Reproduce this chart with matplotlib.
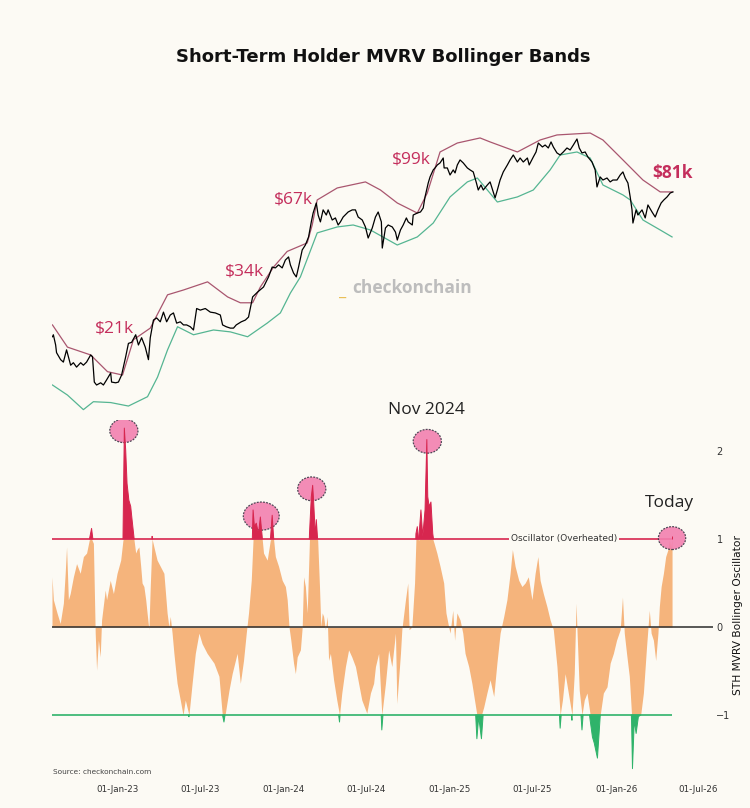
import numpy
import pandas
import matplotlib
matplotlib.use('Agg')
import matplotlib.pyplot
import matplotlib.dates
import matplotlib.patches

# price and bands, USD thousands
price_dates = ['2022-08-11', '2022-08-13', '2022-08-18', '2022-08-20', '2022-08-29', '2022-09-04', '2022-09-11', '2022-09-15',
	'2022-09-20', '2022-09-26', '2022-10-03', '2022-10-12', '2022-10-18', '2022-10-25', '2022-11-03', '2022-11-07',
	'2022-11-11', '2022-11-16', '2022-11-25', '2022-12-01', '2022-12-08', '2022-12-17', '2022-12-19', '2022-12-28',
	'2023-01-03', '2023-01-10', '2023-01-19', '2023-01-25', '2023-02-01', '2023-02-10', '2023-02-16', '2023-02-23',
	'2023-03-03', '2023-03-10', '2023-03-14', '2023-03-21', '2023-03-28', '2023-04-05', '2023-04-12', '2023-04-19',
	'2023-04-27', '2023-05-04', '2023-05-11', '2023-05-19', '2023-05-26', '2023-06-02', '2023-06-10', '2023-06-17',
	'2023-06-24', '2023-07-02', '2023-07-13', '2023-07-24', '2023-08-04', '2023-08-15', '2023-08-20', '2023-08-28',
	'2023-09-06', '2023-09-13', '2023-09-19', '2023-09-30', '2023-10-09', '2023-10-16', '2023-10-25', '2023-11-05',
	'2023-11-18', '2023-11-29', '2023-12-07', '2023-12-14', '2023-12-21', '2023-12-29', '2024-01-05', '2024-01-12',
	'2024-01-16', '2024-01-23', '2024-01-29', '2024-02-03', '2024-02-11', '2024-02-18', '2024-02-25', '2024-03-02',
	'2024-03-06', '2024-03-13', '2024-03-17', '2024-03-22', '2024-03-28', '2024-04-04', '2024-04-08', '2024-04-17',
	'2024-04-24', '2024-04-30', '2024-05-05', '2024-05-11', '2024-05-22', '2024-05-31', '2024-06-07', '2024-06-13',
	'2024-06-22', '2024-06-29', '2024-07-05', '2024-07-14', '2024-07-21', '2024-07-27', '2024-08-03', '2024-08-05',
	'2024-08-12', '2024-08-18', '2024-08-27', '2024-09-03', '2024-09-07', '2024-09-14', '2024-09-20', '2024-09-27',
	'2024-10-01', '2024-10-10', '2024-10-12', '2024-10-21', '2024-10-28', '2024-11-03', '2024-11-07', '2024-11-14',
	'2024-11-18', '2024-11-25', '2024-11-29', '2024-12-04', '2024-12-10', '2024-12-17', '2024-12-19', '2024-12-26',
	'2025-01-01', '2025-01-08', '2025-01-12', '2025-01-17', '2025-01-23', '2025-01-30', '2025-02-08', '2025-02-14',
	'2025-02-21', '2025-02-28', '2025-03-04', '2025-03-10', '2025-03-15', '2025-03-24', '2025-03-30', '2025-04-06',
	'2025-04-10', '2025-04-15', '2025-04-21', '2025-04-28', '2025-05-07', '2025-05-13', '2025-05-20', '2025-05-29',
	'2025-06-04', '2025-06-11', '2025-06-20', '2025-06-24', '2025-07-03', '2025-07-09', '2025-07-14', '2025-07-23',
	'2025-07-29', '2025-08-05', '2025-08-11', '2025-08-16', '2025-08-24', '2025-08-31', '2025-09-07', '2025-09-15',
	'2025-09-22', '2025-09-29', '2025-10-07', '2025-10-12', '2025-10-18', '2025-10-25', '2025-10-31', '2025-11-09',
	'2025-11-16', '2025-11-20', '2025-11-27', '2025-12-03', '2025-12-12', '2025-12-19', '2025-12-25', '2026-01-03',
	'2026-01-10', '2026-01-16', '2026-01-21', '2026-01-27', '2026-02-01', '2026-02-05', '2026-02-07', '2026-02-14',
	'2026-02-18', '2026-02-27', '2026-03-06', '2026-03-12', '2026-03-21', '2026-03-28', '2026-04-03', '2026-04-10',
	'2026-04-16', '2026-04-23', '2026-04-30', '2026-05-06']
price_k = [24.2, 24.6, 22.6, 21.2, 20.0, 19.6, 21.7, 20.5,
	19.1, 19.5, 18.8, 19.5, 19.1, 19.6, 20.8, 20.5,
	16.6, 16.2, 16.5, 16.2, 16.9, 17.9, 16.6, 16.5,
	16.6, 17.6, 20.5, 22.9, 23.1, 24.6, 22.6, 24.0,
	22.2, 20.0, 24.0, 27.8, 28.3, 27.4, 29.7, 27.4,
	29.0, 29.5, 27.1, 27.4, 26.7, 26.7, 26.3, 25.6,
	30.6, 30.2, 30.6, 29.7, 29.5, 29.0, 26.7, 26.3,
	26.0, 26.0, 26.7, 27.4, 27.8, 28.5, 33.7, 35.1,
	36.6, 39.8, 43.2, 42.9, 44.0, 42.9, 45.8, 47.0,
	44.0, 41.1, 39.8, 43.2, 49.8, 51.9, 55.5, 62.9,
	67.7, 73.6, 66.6, 62.9, 69.5, 66.6, 69.5, 63.9,
	65.0, 61.3, 62.9, 65.5, 68.3, 69.5, 69.5, 65.5,
	63.9, 60.3, 55.0, 59.8, 65.5, 68.3, 62.9, 50.6,
	59.8, 61.3, 60.3, 57.8, 54.1, 58.8, 61.3, 65.0,
	62.9, 61.3, 66.6, 67.7, 68.3, 70.6, 77.4, 86.9,
	91.4, 96.9, 98.5, 101.0, 102.7, 107.0, 98.5, 98.5,
	92.9, 96.9, 94.5, 101.0, 105.3, 102.7, 98.5, 96.9,
	95.3, 86.9, 82.0, 85.5, 82.0, 85.5, 87.7, 80.7,
	76.8, 82.0, 89.1, 95.3, 101.0, 105.3, 109.7, 103.5,
	107.0, 103.5, 107.0, 101.0, 107.9, 112.5, 121.2, 117.3,
	119.2, 116.3, 122.3, 117.3, 111.6, 109.7, 112.5, 116.3,
	114.4, 119.2, 125.3, 116.3, 111.6, 112.5, 107.9, 103.5,
	96.9, 84.1, 91.4, 89.1, 90.6, 87.7, 89.1, 89.1,
	92.9, 95.3, 90.6, 86.9, 77.4, 69.5, 62.3, 69.5,
	66.6, 69.5, 65.0, 72.4, 68.3, 65.5, 69.5, 73.6,
	75.5, 77.4, 80.0, 80.7]

upper_dates = ['2022-08-11', '2022-09-13', '2022-11-03', '2022-12-10', '2023-01-12', '2023-02-05', '2023-03-14', '2023-04-21',
	'2023-05-26', '2023-07-18', '2023-08-31', '2023-09-28', '2023-10-25', '2023-11-11', '2023-12-10', '2024-01-09',
	'2024-02-22', '2024-03-04', '2024-03-15', '2024-04-28', '2024-06-29', '2024-08-01', '2024-09-07', '2024-10-21',
	'2024-11-12', '2024-12-10', '2025-01-17', '2025-03-08', '2025-03-30', '2025-05-29', '2025-07-18', '2025-08-24',
	'2025-11-05', '2025-12-03', '2026-01-16', '2026-03-01', '2026-04-08', '2026-05-04']
upper_k = [26.7, 22.2, 20.8, 18.1, 17.6, 23.6, 26.0, 34.3,
	35.7, 38.2, 33.7, 32.1, 32.1, 36.6, 43.2, 49.2,
	52.8, 61.3, 75.5, 83.4, 87.7, 82.0, 73.6, 67.7,
	80.0, 112.5, 121.2, 126.4, 122.3, 112.5, 124.3, 129.6,
	131.7, 124.3, 105.3, 89.1, 80.7, 80.7]

lower_dates = ['2022-08-11', '2022-09-13', '2022-10-18', '2022-11-09', '2022-12-17', '2023-01-25', '2023-03-08', '2023-03-30',
	'2023-04-21', '2023-05-13', '2023-06-17', '2023-07-31', '2023-09-06', '2023-10-14', '2023-11-26', '2023-12-25',
	'2024-01-16', '2024-02-07', '2024-03-15', '2024-04-28', '2024-06-02', '2024-07-10', '2024-09-07', '2024-10-21',
	'2024-11-25', '2025-01-01', '2025-02-08', '2025-03-02', '2025-04-15', '2025-05-29', '2025-07-03', '2025-08-09',
	'2025-08-31', '2025-10-07', '2025-11-05', '2025-12-03', '2026-01-16', '2026-02-01', '2026-03-01', '2026-04-08',
	'2026-05-04']
lower_k = [16.2, 14.9, 13.2, 14.1, 14.0, 13.6, 14.7, 17.3,
	21.7, 26.3, 24.6, 25.6, 25.2, 24.2, 27.1, 29.5,
	34.8, 39.8, 57.4, 60.3, 61.3, 58.8, 51.9, 55.5,
	62.3, 77.4, 87.7, 90.6, 74.2, 77.4, 82.0, 96.9,
	109.7, 112.5, 107.0, 85.5, 78.7, 75.5, 63.9, 58.8,
	55.5]

# STH MVRV Bollinger oscillator
osc_dates = ['2022-08-10', '2022-08-13', '2022-08-21', '2022-08-28', '2022-09-04', '2022-09-08', '2022-09-11', '2022-09-15',
	'2022-09-19', '2022-09-26', '2022-10-03', '2022-10-11', '2022-10-18', '2022-10-25', '2022-10-31', '2022-11-05',
	'2022-11-09', '2022-11-13', '2022-11-16', '2022-11-20', '2022-11-24', '2022-11-27', '2022-12-05', '2022-12-08',
	'2022-12-16', '2022-12-23', '2022-12-31', '2023-01-08', '2023-01-13', '2023-01-16', '2023-01-19', '2023-01-22',
	'2023-01-26', '2023-01-30', '2023-02-02', '2023-02-06', '2023-02-10', '2023-02-13', '2023-02-17', '2023-02-21',
	'2023-02-24', '2023-02-28', '2023-03-04', '2023-03-07', '2023-03-11', '2023-03-14', '2023-03-18', '2023-03-22',
	'2023-03-29', '2023-04-05', '2023-04-13', '2023-04-20', '2023-04-24', '2023-04-27', '2023-05-01', '2023-05-05',
	'2023-05-08', '2023-05-12', '2023-05-19', '2023-05-25', '2023-05-30', '2023-06-07', '2023-06-14', '2023-06-21',
	'2023-06-29', '2023-07-06', '2023-07-17', '2023-08-01', '2023-08-12', '2023-08-19', '2023-08-23', '2023-08-26',
	'2023-09-03', '2023-09-10', '2023-09-21', '2023-09-28', '2023-10-05', '2023-10-11', '2023-10-16', '2023-10-22',
	'2023-10-26', '2023-10-29', '2023-11-02', '2023-11-07', '2023-11-11', '2023-11-15', '2023-11-18', '2023-11-26',
	'2023-12-03', '2023-12-07', '2023-12-10', '2023-12-14', '2023-12-21', '2023-12-29', '2024-01-05', '2024-01-09',
	'2024-01-13', '2024-01-17', '2024-01-23', '2024-01-27', '2024-01-31', '2024-02-07', '2024-02-11', '2024-02-14',
	'2024-02-18', '2024-02-22', '2024-02-27', '2024-03-02', '2024-03-05', '2024-03-07', '2024-03-11', '2024-03-13',
	'2024-03-16', '2024-03-20', '2024-03-23', '2024-03-26', '2024-03-29', '2024-04-02', '2024-04-06', '2024-04-09',
	'2024-04-13', '2024-04-20', '2024-04-27', '2024-05-03', '2024-05-08', '2024-05-16', '2024-05-23', '2024-05-30',
	'2024-06-07', '2024-06-14', '2024-06-21', '2024-07-02', '2024-07-10', '2024-07-17', '2024-07-21', '2024-07-28',
	'2024-08-04', '2024-08-12', '2024-08-19', '2024-08-26', '2024-09-03', '2024-09-06', '2024-09-14', '2024-09-17',
	'2024-09-25', '2024-09-30', '2024-10-03', '2024-10-09', '2024-10-15', '2024-10-18', '2024-10-21', '2024-10-24',
	'2024-10-29', '2024-11-02', '2024-11-07', '2024-11-11', '2024-11-13', '2024-11-16', '2024-11-20', '2024-11-24',
	'2024-11-27', '2024-12-03', '2024-12-10', '2024-12-18', '2024-12-23', '2024-12-29', '2025-01-01', '2025-01-07',
	'2025-01-11', '2025-01-16', '2025-01-23', '2025-01-29', '2025-02-03', '2025-02-11', '2025-02-18', '2025-02-25',
	'2025-03-01', '2025-03-05', '2025-03-11', '2025-03-16', '2025-03-23', '2025-03-30', '2025-04-07', '2025-04-14',
	'2025-04-21', '2025-04-29', '2025-05-06', '2025-05-13', '2025-05-18', '2025-05-24', '2025-06-01', '2025-06-08',
	'2025-06-15', '2025-06-22', '2025-06-30', '2025-07-07', '2025-07-13', '2025-07-18', '2025-07-25', '2025-08-02',
	'2025-08-09', '2025-08-16', '2025-08-24', '2025-08-31', '2025-09-05', '2025-09-11', '2025-09-18', '2025-09-26',
	'2025-10-01', '2025-10-05', '2025-10-07', '2025-10-12', '2025-10-18', '2025-10-23', '2025-10-29', '2025-11-05',
	'2025-11-10', '2025-11-14', '2025-11-21', '2025-11-27', '2025-12-04', '2025-12-12', '2025-12-19', '2025-12-26',
	'2026-01-02', '2026-01-10', '2026-01-15', '2026-01-19', '2026-01-24', '2026-01-30', '2026-02-04', '2026-02-06',
	'2026-02-10', '2026-02-14', '2026-02-19', '2026-02-24', '2026-03-02', '2026-03-09', '2026-03-15', '2026-03-19',
	'2026-03-24', '2026-03-29', '2026-04-03', '2026-04-06', '2026-04-10', '2026-04-15', '2026-04-20', '2026-04-25',
	'2026-04-28', '2026-05-01', '2026-05-04']
osc_values = [0.57, 0.31, 0.16, 0.04, 0.27, 0.61, 0.91, 0.31,
	0.38, 0.57, 0.72, 0.61, 0.80, 0.84, 0.99, 1.12,
	0.95, -0.07, -0.49, -0.15, -0.34, 0.08, 0.42, 0.31,
	0.53, 0.38, 0.61, 0.76, 0.99, 2.26, 2.01, 1.63,
	1.44, 1.37, 1.22, 1.03, 0.84, 0.88, 0.91, 0.69,
	0.50, 0.46, 0.31, 0.16, -0.03, 0.46, 1.03, 0.91,
	0.76, 0.69, 0.61, 0.16, 0.00, 0.12, -0.07, -0.30,
	-0.45, -0.64, -0.83, -1.00, -0.83, -1.02, -0.64, -0.30,
	-0.07, -0.19, -0.30, -0.41, -0.56, -0.98, -1.08, -0.98,
	-0.72, -0.53, -0.30, -0.64, -0.38, -0.07, 0.16, 0.53,
	1.33, 1.14, 1.18, 1.06, 1.25, 1.03, 0.84, 0.76,
	0.99, 1.27, 1.03, 0.80, 0.69, 0.53, 0.46, 0.31,
	0.00, -0.15, -0.41, -0.53, -0.34, -0.26, 0.00, 0.57,
	0.46, 0.16, 1.06, 1.48, 1.61, 1.44, 1.03, 1.22,
	0.99, 0.46, 0.00, 0.16, 0.12, -0.03, 0.12, -0.38,
	-0.30, -0.60, -0.83, -1.08, -0.75, -0.45, -0.26, -0.34,
	-0.45, -0.64, -0.83, -0.98, -0.75, -0.64, -0.45, -0.30,
	-1.17, -0.64, -0.26, -0.45, -0.07, -0.87, -0.30, -0.03,
	0.31, 0.50, -0.03, 0.00, 0.50, 1.06, 1.14, 0.99,
	1.33, 1.03, 1.33, 2.13, 1.48, 1.37, 1.42, 1.06,
	0.95, 0.84, 0.69, 0.50, 0.16, 0.00, -0.07, 0.19,
	-0.15, 0.16, 0.08, -0.07, -0.30, -0.45, -0.64, -0.87,
	-1.27, -1.02, -1.27, -0.91, -0.75, -0.60, -0.79, -0.41,
	-0.07, 0.12, 0.31, 0.61, 0.88, 0.69, 0.53, 0.46,
	0.50, 0.57, 0.31, 0.61, 0.80, 0.53, 0.38, 0.23,
	0.08, -0.03, -0.45, -1.15, -0.83, -0.53, -0.75, -1.06,
	-0.53, 0.27, -0.03, -0.72, -1.17, -0.83, -0.75, -1.06,
	-1.25, -1.32, -1.49, -1.02, -0.75, -0.68, -0.41, -0.30,
	-0.15, -0.03, 0.34, -0.07, -0.30, -0.56, -1.06, -1.61,
	-1.06, -1.21, -1.02, -1.00, -0.75, -0.22, 0.19, -0.07,
	-0.15, -0.38, -0.07, 0.23, 0.46, 0.61, 0.80, 0.88,
	0.99, 0.91, 1.03]

tick_dates = ['2023-01-01', '2023-07-01', '2024-01-01', '2024-07-01', '2025-01-01', '2025-07-01', '2026-01-01', '2026-07-01']
price_labels = ['$21k', '$34k', '$67k', '$99k', '$81k']
# overheated peaks that are ringed in the chart
peak_dates = ['2023-01-15', '2023-11-13', '2024-03-03', '2024-11-12', '2026-05-04']
peak_values = [2.23, 1.26, 1.57, 2.11, 1.01]

BACKGROUND = '#fcfaf4'
LABEL_RED = '#c42e5c'
RED = '#d7264f'
GREEN = '#2fb36a'
ORANGE = '#f5b47c'
SANS = ['Open Sans', 'DejaVu Sans']


def dates(values):
	return pandas.to_datetime(values)


def draw_price(ax):
	ax.plot(dates(upper_dates), upper_k, color = '#a9566f', linewidth = 0.9)
	ax.plot(dates(lower_dates), lower_k, color = '#55b592', linewidth = 0.9)
	ax.plot(dates(price_dates), price_k, color = 'black', linewidth = 0.9)
	ax.set_yscale('log')
	ax.set_ylim(12.11, 153.0)
	ax.axis('off')
	spots = [('2022-12-25', 26.0), ('2023-10-07', 41.5), ('2024-01-22', 75.5), ('2024-10-07', 106.0), ('2026-05-04', 94.5)]
	for text, (day, level) in zip(price_labels, spots):
		weight = 'bold' if text == price_labels[-1] else 'normal'
		ax.text(pandas.Timestamp(day), level, text, color = LABEL_RED, fontsize = 12.5, fontweight = weight,
			family = SANS, ha = 'center', va = 'center')


def draw_oscillator(ax):
	x = dates(osc_dates)
	v = numpy.array(osc_values)
	ax.set_facecolor(BACKGROUND)
	ax.fill_between(x, 0, numpy.clip(v, -1, 1), color = ORANGE, linewidth = 0, zorder = 1)
	ax.hlines(1, x[0], x[-1], color = RED, linewidth = 1.2, zorder = 2)
	ax.hlines(-1, x[0], x[-1], color = GREEN, linewidth = 1.2, zorder = 2)
	sizes = [(62, 0.27), (79, 0.32), (62, 0.27), (62, 0.27), (60, 0.26)]
	for day, level, (w, h) in zip(peak_dates, peak_values, sizes):
		ring = matplotlib.patches.Ellipse((matplotlib.dates.date2num(pandas.Timestamp(day)), level), w, h,
			facecolor = '#f380b0', edgecolor = '#3b3b48', linewidth = 0.9, linestyle = (0, (1.5, 1)), alpha = 0.9, zorder = 2.5)
		ax.add_patch(ring)
	ax.fill_between(x, 1, v, where = v > 1, interpolate = True, color = RED, linewidth = 0.7, zorder = 3)
	ax.fill_between(x, -1, v, where = v < -1, interpolate = True, color = GREEN, linewidth = 0.7, zorder = 3)
	ax.axhline(0, color = '#2b2b2b', linewidth = 1.1, zorder = 4)

	ax.text(pandas.Timestamp('2025-09-09'), 1, 'Oscillator (Overheated)', fontsize = 6.5, color = '#333333',
		ha = 'center', va = 'center', zorder = 5, bbox = dict(facecolor = BACKGROUND, edgecolor = 'none', pad = 1.5))
	ax.text(pandas.Timestamp('2024-11-09'), 2.47, 'Nov 2024', fontsize = 12.5, family = SANS, color = '#222222',
		ha = 'center', va = 'center')
	ax.text(pandas.Timestamp('2026-04-29'), 1.41, 'Today', fontsize = 12.5, family = SANS, color = '#222222',
		ha = 'center', va = 'center')

	ax.set_ylim(-1.682, 2.352)
	ax.set_yticks([-1, 0, 1, 2])
	ax.yaxis.tick_right()
	ax.tick_params(axis = 'y', length = 0, pad = 2.5, labelsize = 7, colors = '#333333')
	ax.yaxis.set_label_position('right')
	ax.set_ylabel('STH MVRV Bollinger Oscillator', fontsize = 7.7, color = '#111111')
	ax.yaxis.set_label_coords(1.031, 0.451)
	ax.set_xticks(dates(tick_dates))
	ax.xaxis.set_major_formatter(matplotlib.dates.DateFormatter('%d-%b-%y'))
	ax.tick_params(axis = 'x', length = 0, pad = 7, labelsize = 6.3, colors = '#333333')
	for side in ax.spines.values():
		side.set_visible(False)


def main():
	fig = matplotlib.pyplot.figure(figsize = (7.5, 8.08), dpi = 100, facecolor = BACKGROUND)
	axPrice = fig.add_axes([0.06933, 0.48020, 0.88133, 0.37748])
	axOsc = fig.add_axes([0.06933, 0.04084, 0.88133, 0.43936], sharex = axPrice)
	axOsc.set_xlim(pandas.Timestamp('2022-08-10'), pandas.Timestamp('2026-08-02'))
	draw_price(axPrice)
	draw_oscillator(axOsc)

	fig.text(383 / 750, 1 - 57 / 808, 'Short-Term Holder MVRV Bollinger Bands', fontsize = 13, fontweight = 'bold',
		ha = 'center', va = 'center', color = '#111111')
	fig.text(339 / 750, 1 - 291 / 808, '_', fontsize = 12.5, fontweight = 'bold', family = SANS, color = '#e9bf55',
		ha = 'left', va = 'center')
	fig.text(352 / 750, 1 - 288 / 808, 'checkonchain', fontsize = 12.5, fontweight = 'bold', family = SANS,
		color = '#bdbdbd', ha = 'left', va = 'center')
	fig.text(53 / 750, 1 - 772 / 808, 'Source: checkonchain.com', fontsize = 5.3, color = '#444444', va = 'center')
	fig.savefig('out.png', dpi = 100, facecolor = BACKGROUND)


if __name__ == '__main__':
	main()
